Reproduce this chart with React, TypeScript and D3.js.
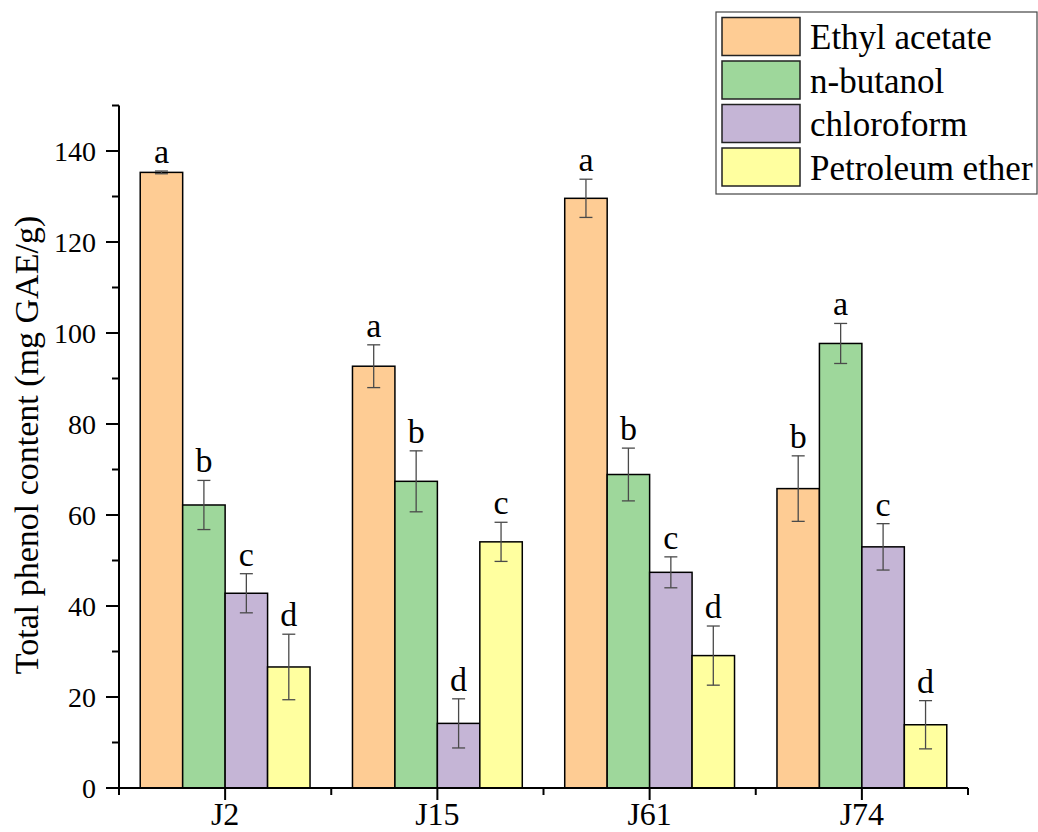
import React from "react";
import * as d3 from "d3";

// Sample groups along the x axis
const groups = ["J2", "J15", "J61", "J74"];

// Solvent fractions (legend order)
const seriesNames = ["Ethyl acetate", "n-butanol", "chloroform", "Petroleum ether"];
const seriesColors = ["#FECC94", "#9ED79B", "#C5B5D6", "#FFFF9F"];

// Total phenol content (mg GAE/g), mean values per fraction
const ethylAcetate = [135.3, 92.7, 129.6, 65.8];
const nButanol = [62.2, 67.4, 68.9, 97.7];
const chloroform = [42.8, 14.2, 47.4, 53.0];
const petroleumEther = [26.6, 54.1, 29.1, 13.9];

// Standard deviations
const ethylAcetateErr = [0.3, 4.7, 4.2, 7.2];
const nButanolErr = [5.4, 6.7, 5.8, 4.4];
const chloroformErr = [4.3, 5.4, 3.4, 5.1];
const petroleumEtherErr = [7.2, 4.3, 6.5, 5.3];

// Significance letters
const ethylAcetateSig = ["a", "a", "a", "b"];
const nButanolSig = ["b", "b", "b", "a"];
const chloroformSig = ["c", "d", "c", "c"];
const petroleumEtherSig = ["d", "c", "d", "d"];

const majorTicks = [0, 20, 40, 60, 80, 100, 120, 140];
const minorTicks = [10, 30, 50, 70, 90, 110, 130, 150];

const W = 1038;
const H = 832;
const FONT = "'Liberation Serif', 'Times New Roman', serif";

export default function App() {
  const left = 119;
  const right = 968;
  const bottom = 788;

  const values = [ethylAcetate, nButanol, chloroform, petroleumEther];
  const errors = [ethylAcetateErr, nButanolErr, chloroformErr, petroleumEtherErr];
  const letters = [ethylAcetateSig, nButanolSig, chloroformSig, petroleumEtherSig];

  const y = d3.scaleLinear().domain([0, 150]).range([bottom, bottom - 150 * (637 / 140)]);
  const x0 = d3.scaleBand<string>().domain(groups).range([left, right]).padding(0);
  const x1 = d3
    .scaleBand<string>()
    .domain(seriesNames)
    .range([0, x0.bandwidth()])
    .paddingInner(0)
    .paddingOuter(0.5);

  const bw = x1.bandwidth();
  const cap = 6.5;

  const bars: React.ReactNode[] = [];
  const errs: React.ReactNode[] = [];
  const labels: React.ReactNode[] = [];

  seriesNames.forEach((s, si) => {
    groups.forEach((g, gi) => {
      const v = values[si][gi];
      const e = errors[si][gi];
      const bx = (x0(g) as number) + (x1(s) as number);
      const cx = bx + bw / 2;
      bars.push(
        <rect
          key={`b-${si}-${gi}`}
          x={bx}
          y={y(v)}
          width={bw}
          height={bottom - y(v)}
          fill={seriesColors[si]}
          stroke="#000"
          strokeWidth={1.5}
        />
      );
      errs.push(
        <g key={`e-${si}-${gi}`} stroke="#4a4a4a" strokeWidth={1.3}>
          <line x1={cx} x2={cx} y1={y(v + e)} y2={y(v - e)} />
          <line x1={cx - cap} x2={cx + cap} y1={y(v + e)} y2={y(v + e)} />
          <line x1={cx - cap} x2={cx + cap} y1={y(v - e)} y2={y(v - e)} />
        </g>
      );
      labels.push(
        <text
          key={`l-${si}-${gi}`}
          x={cx}
          y={y(v + e) - 8}
          textAnchor="middle"
          fontSize={34}
          fontFamily={FONT}
          fill="#000"
        >
          {letters[si][gi]}
        </text>
      );
    });
  });

  const boundaries = groups.map((g) => x0(g) as number).concat([right]);

  return (
    <svg
      width={W}
      height={H}
      style={{ position: "absolute", left: 0, top: 0, background: "#fff" }}
      fontFamily={FONT}
    >
      <rect x={0} y={0} width={W} height={H} fill="#fff" />

      {bars}
      {errs}
      {labels}

      {/* y axis */}
      <line x1={left} x2={left} y1={bottom} y2={y(150)} stroke="#000" strokeWidth={2} />
      {majorTicks.map((t) => (
        <g key={`ym-${t}`}>
          <line x1={left - 13} x2={left} y1={y(t)} y2={y(t)} stroke="#000" strokeWidth={2} />
          <text x={96} y={y(t)} dy="0.35em" textAnchor="end" fontSize={28} fill="#000">
            {t}
          </text>
        </g>
      ))}
      {minorTicks.map((t) => (
        <line key={`yn-${t}`} x1={left - 7} x2={left} y1={y(t)} y2={y(t)} stroke="#000" strokeWidth={2} />
      ))}

      {/* x axis */}
      <line x1={left} x2={right} y1={bottom} y2={bottom} stroke="#000" strokeWidth={2} />
      {boundaries.map((bx, i) => (
        <line key={`xb-${i}`} x1={bx} x2={bx} y1={bottom} y2={bottom + 7} stroke="#000" strokeWidth={2} />
      ))}
      {groups.map((g) => {
        const cx = (x0(g) as number) + x0.bandwidth() / 2;
        return (
          <g key={`xg-${g}`}>
            <line x1={cx} x2={cx} y1={bottom} y2={bottom + 12} stroke="#000" strokeWidth={2} />
            <text x={cx} y={825} textAnchor="middle" fontSize={32} fill="#000">
              {g}
            </text>
          </g>
        );
      })}

      {/* y axis title */}
      <text
        transform="translate(38,445) rotate(-90)"
        textAnchor="middle"
        fontSize={34}
        fill="#000"
      >
        Total phenol content (mg GAE/g)
      </text>

      {/* legend */}
      <rect x={716} y={12} width={321} height={182} fill="#fff" stroke="#444" strokeWidth={1.2} />
      {seriesNames.map((s, i) => {
        const top = 17.5 + i * 43.5;
        return (
          <g key={`lg-${s}`}>
            <rect x={722} y={top} width={78} height={38} fill={seriesColors[i]} stroke="#222" strokeWidth={1.5} />
            <text x={810} y={top + 31.5} fontSize={35} fill="#000">
              {s}
            </text>
          </g>
        );
      })}
    </svg>
  );
}
